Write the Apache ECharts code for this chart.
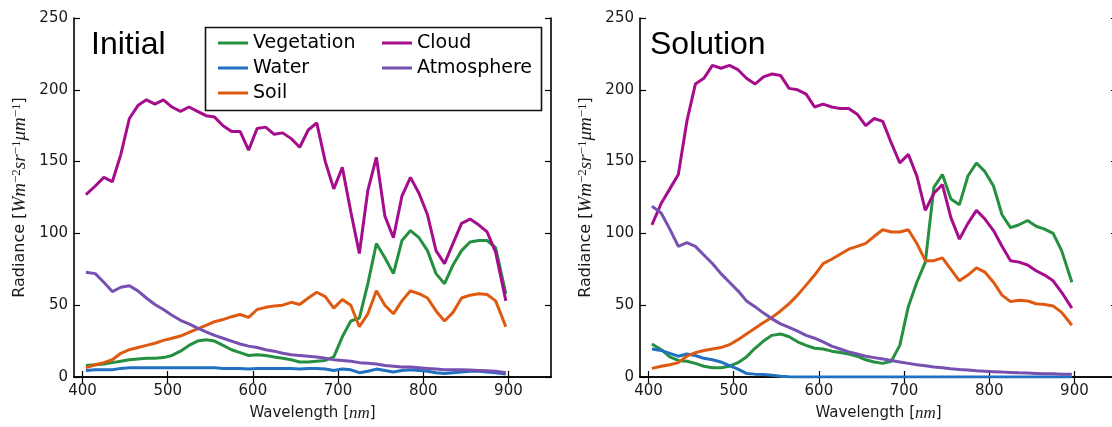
<!DOCTYPE html>
<html>
<head>
<meta charset="utf-8">
<script src="https://cdn.jsdelivr.net/npm/echarts@6/dist/echarts.min.js"></script>
<style>
html,body{margin:0;padding:0;background:#fff;}
#chart{width:1112px;height:427px;}
</style>
</head>
<body>
<div id="chart"></div>
<script>
// ---- data ----
const wavelengths = [404,415,425,435,445,455,465,475,485,495,505,515,525,535,545,555,565,575,585,595,605,615,625,635,645,655,665,675,685,695,705,715,725,735,745,755,765,775,785,795,805,815,825,835,845,855,865,875,885,897];

const initVegetation = [8,8.5,9,10,11,12,12.5,13,13,13.5,15,18,22,25,26,25,22,19,17,15,15.5,15,14,13,12,10.5,10.5,11,11.5,14,28,39,41,65,93,83,72,95,102,97,88,72,65,78,88,94,95,95,90,58];
const initWater = [4.5,5,5,5,6,6.5,6.5,6.5,6.5,6.5,6.5,6.5,6.5,6.5,6.5,6.5,6,6,6,5.5,6,6,6,6,6,5.5,6,6,5.5,4.5,5.5,5,3,4,5.5,4.5,3.5,4.5,5,4.5,4,3,2.5,3,3.5,4,4,3.5,3,2];
const initSoil = [6.5,8.5,10,12,16.5,19,20.5,22,23.5,25.5,27,28.5,31,33.5,36,38.5,40,42,43.5,41.5,47,48.5,49.5,50,52,50.5,55,59,56,48,54,50,35,44,60,50,44,53,60,58,55,46,39,45,55,57,58,57.5,53,35];
const initCloud = [127,133,139,136,155,180,189,193,190,193,188,185,188,185,182,181,175,171,171,158,173,174,169,170,166,160,172,177,150,131,146,115,86,130,153,112,97,126,139,128,113,88,79,93,107,110,106,101,87,53];
const initAtmosphere = [73,72,66,59.5,62.5,63.5,60,55,50.5,47,43,39.5,37,34,31.5,29,27,25,23,21.5,20.5,19,18,16.5,15.5,15,14.5,14,13,12,11.5,11,10,9.5,9,8,7.5,7,7,6.5,6,5.5,5,5,5,4.8,4.6,4.3,4,3];

const solVegetation = [23,19,14,11.5,11,9.5,7.5,6.5,6.5,7.5,10,14,20,25,29,30,28,24.5,22,20,19.5,18,17,16,14.5,12,10.5,9.5,11,22,49,66,80,132,141,124,120,140,149,143,133,113,104,106,109,105,103,100,88,66];
const solWater = [19.5,18.5,16.5,14.5,16,15,13,12,10.5,8,5.5,2.5,2,1.8,1.2,0.5,0.2,0,0,0,0,0,0,0,0,0,0,0,0,0,0,0,0,0,0,0,0,0,0,0,0,0,0,0,0,0,0,0,0,0];
const solSoil = [6,7.5,8.5,10,14.5,17,18.5,19.5,20.5,22.5,26,30,34,38,41.5,46,51,57,64,71,79,82,85.5,89,91,93,98,102.5,101,101,102.5,93,81,81,83,75,67,71,76,73,66,57,52.5,53.5,53,51,50.5,49.5,45,36];
const solCloud = [106,121,131,141,178,204,208,217,215,217,214,208,204,209,211,210,201,200,197,188,190,188,187,187,183,175,180,178,163,149,155,140,116,128,134,111,96,107,116,110,102,91,81,80,78,74,71,67,59,48];
const solAtmosphere = [119,114,103,91,93.5,91,85,79,72,66,60,53,49,44.5,40.5,37,34.5,32,29,27,24.5,21.5,19.5,17.5,16,14.5,13.5,12.5,11.5,10.5,9.5,8.5,7.8,7,6.5,5.8,5.2,4.8,4.3,4,3.7,3.4,3.2,2.9,2.7,2.5,2.3,2.2,2,1.9];

const xTicks = [400,500,600,700,800,900];
const seriesNames = ['Vegetation','Water','Soil','Cloud','Atmosphere'];
const panelTitles = ['Initial','Solution'];

// ---- styling ----
const colors = {Vegetation:'#25903f', Water:'#2171c0', Soil:'#dd5a10', Cloud:'#a50d8c', Atmosphere:'#7651b1'};
const TXT = '#1a1a1a';

const panels = [
  {left:74, data:{Vegetation:initVegetation, Water:initWater, Soil:initSoil, Cloud:initCloud, Atmosphere:initAtmosphere}},
  {left:640, data:{Vegetation:solVegetation, Water:solWater, Soil:solSoil, Cloud:solCloud, Atmosphere:solAtmosphere}}
];

const grids = [], xAxes = [], yAxes = [], series = [];
const yName = '{n|Radiance [}{i|Wm}{s|−2}{i|sr}{s|−1}{i|μm}{s|−1}{n|]}';

panels.forEach((p, k) => {
  grids.push({left:p.left, top:18, width:477, height:359, show:false, outerBoundsMode:'none', containLabel:false});
  const tickCommon = {show:true, inside:true, length:6, lineStyle:{color:'#000', width:1.2}};
  // bottom x
  xAxes.push({
    type:'value', gridIndex:k, position:'bottom', min:390, max:950,
    axisLine:{show:true, lineStyle:{color:'#000', width:1.6}},
    axisTick:Object.assign({customValues:xTicks}, tickCommon),
    axisLabel:{customValues:xTicks, color:TXT, fontFamily:'DejaVu Sans', fontSize:15, margin:7},
    splitLine:{show:false},
    name:'{n|Wavelength [}{i|nm}{n|]}', nameLocation:'middle', nameGap:28,
    nameTextStyle:{rich:{n:{fontFamily:'DejaVu Sans', fontSize:15, color:TXT}, i:{fontFamily:'Liberation Serif', fontStyle:'italic', fontSize:17, color:TXT}}}
  });
  // top x
  xAxes.push({
    type:'value', gridIndex:k, position:'top', min:390, max:950,
    axisLine:{show:true, lineStyle:{color:'#000', width:1.6}},
    axisTick:Object.assign({customValues:xTicks}, tickCommon),
    axisLabel:{show:false}, splitLine:{show:false}
  });
  // left y
  yAxes.push({
    type:'value', gridIndex:k, position:'left', min:0, max:250, interval:50,
    axisLine:{show:true, lineStyle:{color:'#000', width:1.6}},
    axisTick:tickCommon,
    axisLabel:{color:TXT, fontFamily:'DejaVu Sans', fontSize:15, margin:6},
    splitLine:{show:false},
    name:yName, nameLocation:'middle', nameGap:44, nameRotate:90,
    nameTextStyle:{rich:{
      n:{fontFamily:'DejaVu Sans', fontSize:16, color:TXT, lineHeight:20},
      i:{fontFamily:'Liberation Serif', fontStyle:'italic', fontSize:19, color:TXT, lineHeight:20},
      s:{fontFamily:'Liberation Serif', fontSize:13, color:TXT, verticalAlign:'top', lineHeight:13}
    }}
  });
  // right y
  yAxes.push({
    type:'value', gridIndex:k, position:'right', min:0, max:250, interval:50,
    axisLine:{show:true, lineStyle:{color:'#000', width:1.6}},
    axisTick:tickCommon, axisLabel:{show:false}, splitLine:{show:false}
  });
  seriesNames.forEach(nm => {
    series.push({
      name:nm, type:'line', xAxisIndex:2*k, yAxisIndex:2*k,
      data:wavelengths.map((w,i) => [w, p.data[nm][i]]),
      showSymbol:false, symbol:'none', smooth:false,
      lineStyle:{width:3, color:colors[nm]}, itemStyle:{color:colors[nm]},
      emphasis:{disabled:true}, animation:false, z:2
    });
  });
});

const legendCommon = {
  orient:'vertical', icon:'rect', itemWidth:30, itemHeight:3, itemGap:5,
  textStyle:{fontFamily:'DejaVu Sans', fontSize:19, color:'#000', lineHeight:20},
  selectedMode:false, z:10, padding:0
};

const option = {
  backgroundColor:'#fff',
  animation:false,
  grid:grids, xAxis:xAxes, yAxis:yAxes, series:series,
  legend:[
    Object.assign({left:218, top:33, data:['Vegetation','Water','Soil']}, legendCommon),
    Object.assign({left:382, top:33, data:['Cloud','Atmosphere']}, legendCommon)
  ],
  graphic:[
    {type:'rect', shape:{x:205.5, y:27.5, width:336, height:83}, style:{fill:'#fff', stroke:'#111', lineWidth:1.6}, z:5},
    {type:'text', x:91, y:45, style:{text:panelTitles[0], font:'32px "Liberation Sans"', fill:'#000', verticalAlign:'middle'}, z:6},
    {type:'text', x:650, y:45, style:{text:panelTitles[1], font:'32px "Liberation Sans"', fill:'#000', verticalAlign:'middle'}, z:6}
  ]
};

const chart = echarts.init(document.getElementById('chart'), null, {renderer:'canvas'});
chart.setOption(option);
</script>
</body>
</html>
